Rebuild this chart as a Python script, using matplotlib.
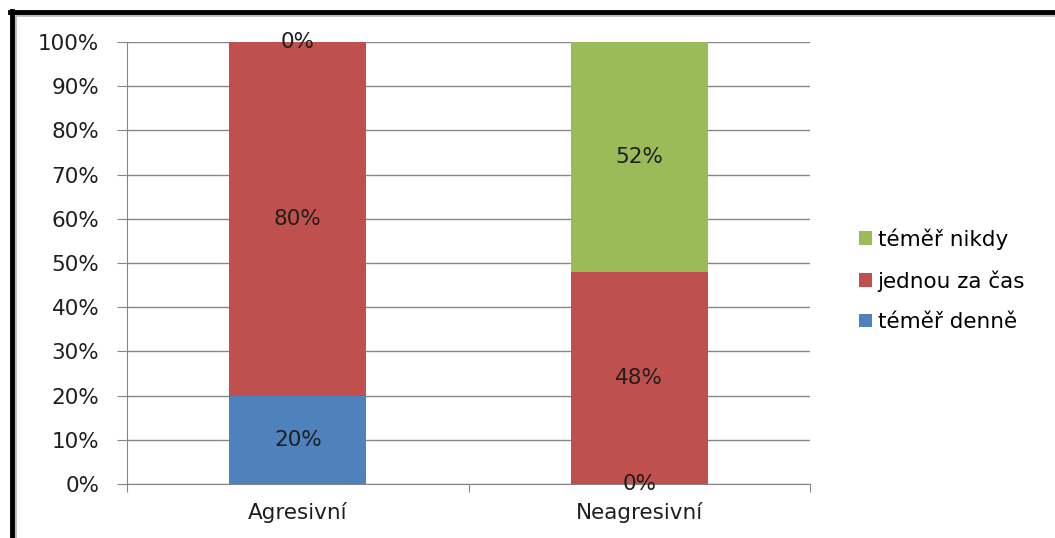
import matplotlib.pyplot as plt
from matplotlib.lines import Line2D

categories = ["Agresivní", "Neagresivní"]
series = ["téměř denně", "jednou za čas", "téměř nikdy"]
denne = [20, 0]
jednou = [80, 48]
nikdy = [0, 52]
colors = ["#4F81BD", "#C0504D", "#9BBB59"]

plt.rcParams['font.family'] = ['DejaVu Sans']
fs = 15.5
tc = "#1e1e1e"

fig = plt.figure(figsize=(10.55, 5.38), dpi=100)
ax = fig.add_axes([127/1055, 54/538, 683/1055, 442/538])

x = list(range(len(categories)))
bottom = [0, 0]
for name, vals, c in zip(series, [denne, jednou, nikdy], colors):
    ax.bar(x, vals, width=0.4, bottom=bottom, color=c, label=name, zorder=3)
    for xi, b, v in zip(x, bottom, vals):
        ax.text(xi, b + v / 2, f"{v}%", ha="center", va="center",
                fontsize=fs, color=tc, zorder=4)
    bottom = [b + v for b, v in zip(bottom, vals)]

ax.set_xlim(-0.5, 1.5)
ax.set_ylim(0, 100)
ax.set_yticks(range(0, 101, 10))
ax.set_yticklabels([f"{t}%" for t in range(0, 101, 10)], fontsize=fs, color=tc)
ax.yaxis.grid(True, color="#868686", linewidth=1, zorder=0)
ax.tick_params(axis="y", length=7, color="#868686", pad=13)

ax.set_xticks([-0.5, 0.5, 1.5])
ax.set_xticklabels([])
ax.set_xticks(x, minor=True)
ax.set_xticklabels(categories, minor=True, fontsize=fs, color=tc)
ax.tick_params(axis="x", which="major", length=6, color="#868686")
ax.tick_params(axis="x", which="minor", length=0, pad=13)

for s in ["top", "right"]:
    ax.spines[s].set_visible(False)
for s in ["left", "bottom"]:
    ax.spines[s].set_color("#868686")

handles, labels = ax.get_legend_handles_labels()
leg = fig.legend(handles[::-1], labels[::-1], loc="center left",
                 bbox_to_anchor=(840/1055, 1 - 280/538), frameon=False,
                 fontsize=fs, handlelength=0.6, handleheight=0.6,
                 handletextpad=0.25, labelspacing=0.95)

# frame border with shadow
fig.add_artist(Line2D([15/1055, 15/1055], [0, 1 - 13/538], color="#bbbbbb", lw=2, transform=fig.transFigure))
fig.add_artist(Line2D([15/1055, 1], [1 - 15/538, 1 - 15/538], color="#bbbbbb", lw=2, transform=fig.transFigure))
fig.add_artist(Line2D([12/1055, 12/1055], [0, 1 - 11/538], color="black", lw=3.5, transform=fig.transFigure))
fig.add_artist(Line2D([10/1055, 1], [1 - 12/538, 1 - 12/538], color="black", lw=3.5, transform=fig.transFigure))

fig.savefig("out.png", dpi=100)
